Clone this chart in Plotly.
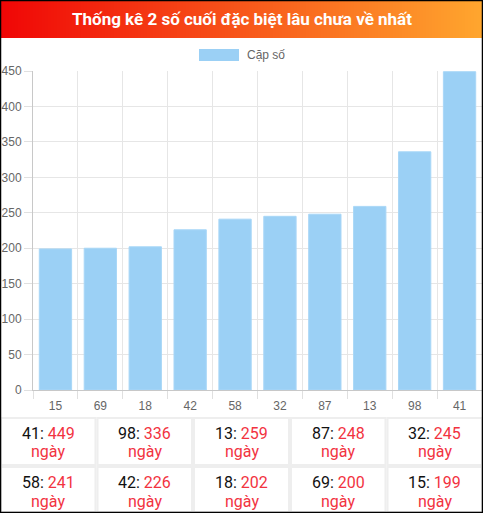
import plotly.graph_objects as go

# data
pairs = ["15", "69", "18", "42", "58", "32", "87", "13", "98", "41"]
days = [199, 200, 202, 226, 241, 245, 248, 259, 336, 449]

title = "Thống kê 2 số cuối đặc biệt lâu chưa về nhất"
legend_name = "Cặp số"
unit = "ngày"

W, H = 483, 513
ML, MR, MT, MB = 33, 1, 71, 123
PW = W - ML - MR
PH = H - MT - MB

RED = "#f2333f"
BAR = "#9bd0f5"


def px(x):
    return (x - ML) / PW


def py(y):
    return (H - MB - y) / PH


fig = go.Figure()
fig.add_trace(go.Bar(
    x=pairs, y=days, name=legend_name,
    marker=dict(color=BAR, line=dict(color="#a9d7f7", width=1)),
    hoverinfo="x+y",
))

shapes = []
annotations = []

# header gradient (red -> orange), drawn as thin strips
c0, c1 = (240, 6, 6), (255, 166, 46)
n = 161
for i in range(n):
    t = i / (n - 1)
    col = tuple(round(a + (b - a) * t) for a, b in zip(c0, c1))
    x0 = W * i / n
    x1 = W * (i + 1) / n + 0.6
    shapes.append(dict(type="rect", xref="paper", yref="paper",
                       x0=px(x0), x1=px(x1), y0=py(38), y1=py(0),
                       line=dict(width=0), fillcolor="rgb(%d,%d,%d)" % col, layer="above"))
annotations.append(dict(text="<b>" + title + "</b>", xref="paper", yref="paper",
                        x=px(W / 2), y=py(19), xanchor="center", yanchor="middle",
                        showarrow=False,
                        font=dict(family="Roboto", size=17, color="white")))

# legend drawn by hand (box + label)
shapes.append(dict(type="rect", xref="paper", yref="paper",
                   x0=px(199), x1=px(239), y0=py(61), y1=py(49),
                   line=dict(width=0), fillcolor=BAR))
annotations.append(dict(text=legend_name, xref="paper", yref="paper",
                        x=px(245), y=py(55), xanchor="left", yanchor="middle",
                        showarrow=False,
                        font=dict(family="Liberation Sans, Arial", size=12, color="#666")))

# table under the chart, longest first
order = sorted(range(len(pairs)), key=lambda i: -days[i])
col_edges = [0, 96.5, 193, 290, 386.5, W]
row_edges = [417, 466, 513]
for k, i in enumerate(order):
    r, c = divmod(k, 5)
    x0, x1 = col_edges[c], col_edges[c + 1]
    y0, y1 = row_edges[r], row_edges[r + 1]
    shapes.append(dict(type="rect", xref="paper", yref="paper",
                       x0=px(x0 + 1), x1=px(x1 - 1), y0=py(y1 - 1), y1=py(y0 + 1),
                       line=dict(color="#eeeeee", width=2), fillcolor="white"))
    cx = (x0 + x1) / 2
    annotations.append(dict(
        text="%s: <span style='color:%s'>%d</span>" % (pairs[i], RED, days[i]),
        xref="paper", yref="paper", x=px(cx), y=py(y0 + 16),
        xanchor="center", yanchor="middle", showarrow=False,
        font=dict(family="Roboto", size=16, color="#111")))
    annotations.append(dict(
        text=unit, xref="paper", yref="paper", x=px(cx), y=py(y0 + 35),
        xanchor="center", yanchor="middle", showarrow=False,
        font=dict(family="Roboto", size=16, color=RED)))

# outer black frame
shapes.append(dict(type="rect", xref="paper", yref="paper",
                   x0=px(0.5), x1=px(W - 0.5), y0=py(H - 0.5), y1=py(0.5),
                   line=dict(color="black", width=1.5), layer="above"))

fig.update_layout(
    width=W, height=H,
    margin=dict(l=ML, r=MR, t=MT, b=MB, pad=0),
    plot_bgcolor="white", paper_bgcolor="white",
    showlegend=False,
    bargap=0.28,
    shapes=shapes,
    annotations=annotations,
    font=dict(family="Liberation Sans, Arial", size=12, color="#666"),
)
fig.update_xaxes(
    type="category", tickson="boundaries", ticks="outside", ticklen=8,
    tickcolor="#e0e0e0", showgrid=True, gridcolor="#e6e6e6", gridwidth=1,
    showline=True, linecolor="#c8c8c8", linewidth=1, ticklabelstandoff=5,
    tickfont=dict(size=12, color="#666"),
)
fig.update_yaxes(
    range=[0, 450], dtick=50, ticks="outside", ticklen=8,
    tickcolor="#e0e0e0", showgrid=True, gridcolor="#e6e6e6", gridwidth=1,
    showline=True, linecolor="#c8c8c8", linewidth=1, zeroline=False,
    tickfont=dict(size=12, color="#666"),
)

fig.write_html("out.html", config={"displayModeBar": False},
               post_script="document.body.style.margin='0';")
